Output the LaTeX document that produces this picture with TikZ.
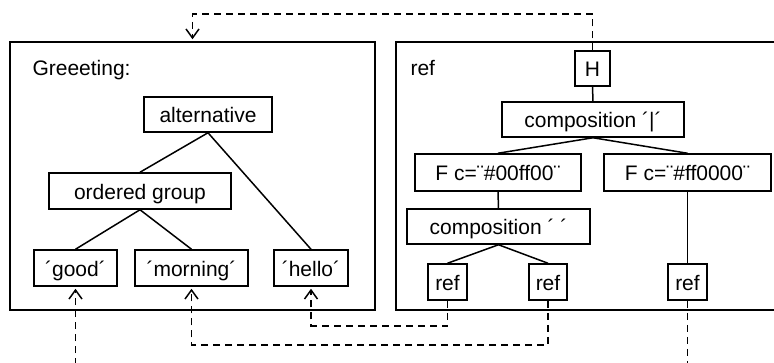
\documentclass[tikz,border=0pt]{standalone}
\usepackage{fontspec}
\setmainfont{Liberation Sans}
\usetikzlibrary{arrows.meta}
\begin{document}
\begin{tikzpicture}[x=1pt,y=-1pt,
  font=\fontsize{21pt}{25pt}\selectfont,
  box/.style={draw, line width=1.5pt, inner sep=0pt, text height=16pt, text depth=0pt, minimum height=35pt},
  panel/.style={draw, line width=1.5pt, inner sep=0pt},
  link/.style={line width=1.5pt},
  refline/.style={line width=1.5pt, dash pattern=on 7pt off 5pt},
  reftip/.style={refline, -{Straight Barb[length=9pt,width=13pt]}, shorten >=2pt}]
\clip (0,0) rectangle (774,362);

% panels
\node[panel, minimum width=365pt, minimum height=268pt] (greeting) at (192.5,176) {};
\node[panel, minimum width=404pt, minimum height=268pt] (refpanel) at (598,176) {};
\node[anchor=base west] (glabel) at (29,75) {Greeeting:};
\node[anchor=base west] (rlabel) at (407,75) {ref};

% Greeeting rule
\node[box, minimum width=128pt] (alt) at (208,114.5) {alternative};
\node[box, minimum width=182pt, minimum height=36pt] (og) at (140,191) {ordered group};
\node[box, minimum width=83pt, minimum height=36pt] (good) at (75.5,268) {´good´};
\node[box, minimum width=113pt, minimum height=36pt] (morning) at (191.5,268) {´morning´};
\node[box, minimum width=74pt, minimum height=36pt] (hello) at (311,268) {´hello´};

\draw[link] (alt.south) -- (og.north);
\draw[link] (alt.south) -- (hello.north);
\draw[link] (og.south) -- (good.north);
\draw[link] (og.south) -- (morning.north);

% ref rule
\node[box, minimum width=35pt] (H) at (592.5,68.5) {H};
\node[box, minimum width=182pt] (comp1) at (593,119.5) {composition ´|´};
\node[box, minimum width=166pt, minimum height=37pt] (f1) at (498,172.5) {F c=¨\#00ff00¨};
\node[box, minimum width=167pt, minimum height=37pt] (f2) at (687.5,172.5) {F c=¨\#ff0000¨};
\node[box, minimum width=183pt] (comp2) at (498.5,226.5) {composition ´ ´};
\node[box, minimum width=39pt, minimum height=36pt] (r1) at (447.5,282) {ref};
\node[box, minimum width=38pt, minimum height=36pt] (r2) at (548,282) {ref};
\node[box, minimum width=39pt, minimum height=36pt] (r3) at (687.5,282) {ref};

\draw[link] (H.south) -- (comp1.north);
\draw[link] (comp1.south) -- (f1.north);
\draw[link] (comp1.south) -- (f2.north);
\draw[link] (f1.south) -- (comp2.north);
\draw[link] (comp2.south) -- (r1.north);
\draw[link] (comp2.south) -- (r2.north);
\draw[link] (f2.south) -- (r3.north);

% references between rules
\coordinate (top) at (592.5,14);
\coordinate (goodin) at (75.5,365);
\coordinate (r3out) at (687.5,365);
\draw[reftip] (H.north) -- (top) -| (greeting.north);
\draw[reftip] (r1.south) -- ++(0,25) -| (hello.south);
\draw[reftip] (r2.south) -- ++(0,44) -| (morning.south);
\draw[reftip] (goodin) -- (good.south);
\draw[refline] (r3.south) -- (r3out);
\end{tikzpicture}
\end{document}
